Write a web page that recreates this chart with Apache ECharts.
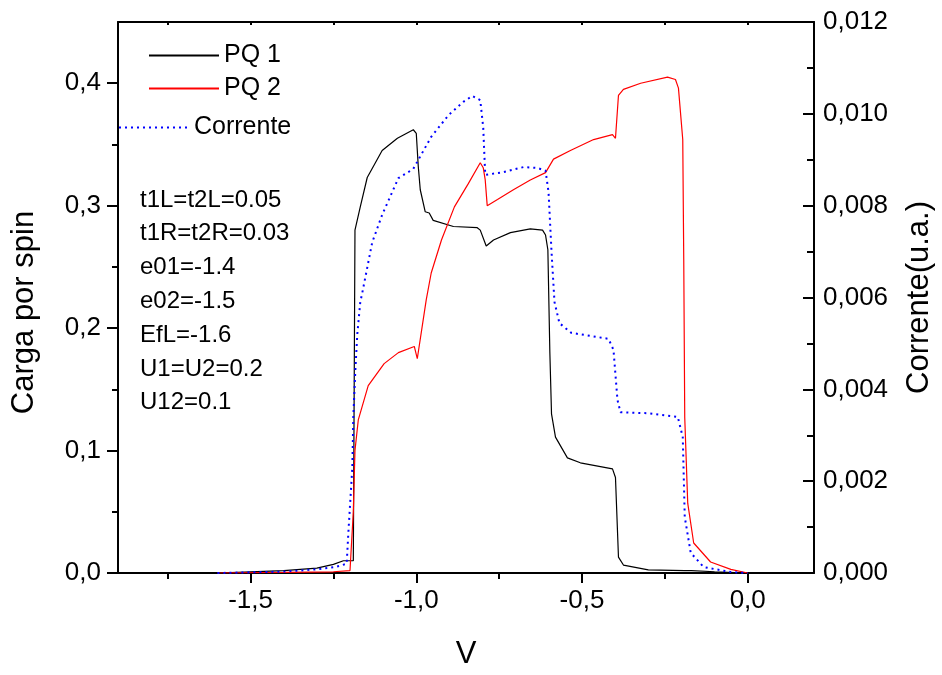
<!DOCTYPE html>
<html><head><meta charset="utf-8">
<script src="https://cdn.jsdelivr.net/npm/echarts@6/dist/echarts.min.js"></script>
<style>html,body{margin:0;padding:0;background:#fff}#c{width:942px;height:675px}</style>
</head><body><div id="c"></div>
<script>
// ---- data ----
const pq1V = [-1.6,-1.5,-1.4,-1.3,-1.25,-1.22,-1.19,-1.185,-1.169,-1.148,-1.103,-1.057,-1.009,-1.0,-0.994,-0.988,-0.973,-0.961,-0.949,-0.888,-0.816,-0.807,-0.789,-0.767,-0.716,-0.656,-0.619,-0.61,-0.603,-0.597,-0.592,-0.58,-0.544,-0.505,-0.408,-0.399,-0.39,-0.375,-0.3,-0.19,-0.185,-0.17,-0.1,0];
const pq1Q = [0,0.001,0.002,0.004,0.007,0.01,0.01,0.28,0.299,0.323,0.345,0.355,0.362,0.359,0.332,0.313,0.295,0.294,0.288,0.283,0.282,0.280,0.267,0.272,0.278,0.281,0.280,0.276,0.264,0.18,0.13,0.111,0.094,0.090,0.085,0.078,0.013,0.0065,0.0025,0.002,0.003,0.002,0.001,0];
const pq2V = [-1.6,-1.4,-1.25,-1.2,-1.19,-1.185,-1.175,-1.145,-1.097,-1.054,-1.006,-0.997,-0.97,-0.955,-0.924,-0.885,-0.843,-0.807,-0.798,-0.792,-0.786,-0.755,-0.707,-0.656,-0.61,-0.586,-0.535,-0.465,-0.408,-0.399,-0.39,-0.375,-0.323,-0.242,-0.218,-0.209,-0.196,-0.193,-0.19,-0.181,-0.163,-0.112,-0.051,0];
const pq2Q = [0,0.0005,0.001,0.002,0.05,0.1,0.125,0.153,0.171,0.18,0.185,0.175,0.223,0.245,0.272,0.299,0.318,0.335,0.331,0.321,0.30,0.305,0.313,0.321,0.327,0.338,0.345,0.354,0.358,0.355,0.39,0.395,0.40,0.405,0.403,0.396,0.354,0.256,0.127,0.057,0.0245,0.009,0.003,0];
const corV = [-1.6,-1.4,-1.3,-1.245,-1.21,-1.205,-1.193,-1.19,-1.184,-1.178,-1.169,-1.163,-1.133,-1.103,-1.054,-1.009,-0.955,-0.903,-0.858,-0.831,-0.807,-0.798,-0.792,-0.737,-0.677,-0.634,-0.61,-0.601,-0.592,-0.583,-0.568,-0.532,-0.42,-0.405,-0.393,-0.384,-0.302,-0.211,-0.196,-0.19,-0.172,-0.133,-0.051,0];
const corI = [0,0.00003,0.00008,0.00013,0.0002,0.00087,0.0023,0.0034,0.0044,0.0052,0.0059,0.0061,0.0072,0.0078,0.0086,0.0088,0.0095,0.00997,0.01026,0.01039,0.0103,0.0097,0.00867,0.00873,0.00884,0.00882,0.00876,0.0083,0.0070,0.0059,0.00544,0.00523,0.0051,0.00486,0.00377,0.0035,0.00348,0.0034,0.00296,0.00122,0.00044,0.00013,0.00002,0];
const xMajorTicks = [-1.5,-1.0,-0.5,0.0];
const xMinorTicks = [-1.75,-1.25,-0.75,-0.25];
const xTopTicks = [-1.75,-1.5,-1.25,-1.0,-0.75,-0.5,-0.25,0.0];
const yLeftMajor = [0,0.1,0.2,0.3,0.4];
const yLeftMinor = [0.05,0.15,0.25,0.35];
const notes = ['t1L=t2L=0.05','t1R=t2R=0.03','e01=-1.4','e02=-1.5','EfL=-1.6','U1=U2=0.2','U12=0.1'];

const zip = (a,b)=>a.map((v,i)=>[v,b[i]]);
const FONT = 'Liberation Sans';
const chart = echarts.init(document.getElementById('c'));
const xBase = {type:'value', min:-1.9, max:0.2, gridIndex:0, splitLine:{show:false}};
const lineBlack = {show:true, onZero:false, lineStyle:{color:'#000', width:2}};
chart.setOption({
  animation:false,
  backgroundColor:'#fff',
  textStyle:{fontFamily:FONT},
  grid:{left:118, right:128, top:22, bottom:102, containLabel:false, outerBoundsMode:'none'},
  xAxis:[
    Object.assign({}, xBase, {position:'bottom', name:'V', nameLocation:'middle', nameGap:66,
      nameTextStyle:{fontSize:31, color:'#000', fontFamily:FONT},
      axisLine:lineBlack,
      axisTick:{show:true, inside:false, length:10, lineStyle:{color:'#000', width:2}, customValues:xMajorTicks},
      axisLabel:{show:true, color:'#000', fontSize:26, margin:15, fontFamily:FONT, customValues:xMajorTicks,
        formatter:v=>v.toFixed(1).replace('.',',')}}),
    Object.assign({}, xBase, {position:'bottom', axisLine:{show:false, onZero:false},
      axisTick:{show:true, inside:false, length:6, lineStyle:{color:'#000', width:2}, customValues:xMinorTicks},
      axisLabel:{show:false}}),
    Object.assign({}, xBase, {position:'top', axisLine:lineBlack,
      axisTick:{show:true, inside:true, length:3, lineStyle:{color:'#000', width:2}, customValues:xTopTicks},
      axisLabel:{show:false}})
  ],
  yAxis:[
    {type:'value', min:0, max:0.45, position:'left', splitLine:{show:false},
      name:'Carga por spin', nameLocation:'middle', nameGap:78, nameRotate:90,
      nameTextStyle:{fontSize:31, color:'#000', fontFamily:FONT, padding:[0,30,0,0]},
      axisLine:lineBlack,
      axisTick:{show:true, inside:false, length:11, lineStyle:{color:'#000', width:2}, customValues:yLeftMajor},
      axisLabel:{show:true, color:'#000', fontSize:26, margin:17, fontFamily:FONT, customValues:yLeftMajor,
        formatter:v=>v.toFixed(1).replace('.',',')}},
    {type:'value', min:0, max:0.012, interval:0.002, position:'right', splitLine:{show:false},
      name:'Corrente(u.a.)', nameLocation:'middle', nameGap:90, nameRotate:90,
      nameTextStyle:{fontSize:31, color:'#000', fontFamily:FONT},
      axisLine:lineBlack,
      axisTick:{show:true, inside:true, length:11, lineStyle:{color:'#000', width:2}},
      minorTick:{show:true, splitNumber:2, length:7, lineStyle:{color:'#000', width:2}},
      axisLabel:{show:true, color:'#000', fontSize:26, margin:9, fontFamily:FONT,
        formatter:v=>v.toFixed(3).replace('.',',')}},
    {type:'value', min:0, max:0.45, position:'left', splitLine:{show:false},
      axisLine:{show:false, onZero:false},
      axisTick:{show:true, inside:false, length:6, lineStyle:{color:'#000', width:2}, customValues:yLeftMinor},
      axisLabel:{show:false}}
  ],
  legend:[
    {data:['PQ 1','PQ 2'], orient:'vertical', left:143, top:38, itemWidth:70, itemHeight:14, itemGap:8,
      itemStyle:{opacity:0},
      textStyle:{fontSize:25, color:'#000', fontFamily:FONT}, selectedMode:false},
    {data:['Corrente'], left:113, top:110, itemWidth:70, itemHeight:14,
      itemStyle:{opacity:0},
      textStyle:{fontSize:25, color:'#000', fontFamily:FONT}, selectedMode:false}
  ],
  graphic: notes.map((t,i)=>({type:'text', left:140, top:188+i*33.8,
    style:{text:t, fontSize:24, fontFamily:FONT, fill:'#000'}})),
  series:[
    {name:'PQ 1', type:'line', xAxisIndex:0, yAxisIndex:0, data:zip(pq1V,pq1Q), symbol:'none',
      lineStyle:{color:'#000', width:1.2}, itemStyle:{color:'#000'}},
    {name:'PQ 2', type:'line', xAxisIndex:0, yAxisIndex:0, data:zip(pq2V,pq2Q), symbol:'none',
      lineStyle:{color:'#ff0000', width:1.2}, itemStyle:{color:'#ff0000'}},
    {name:'Corrente', type:'line', xAxisIndex:0, yAxisIndex:1, data:zip(corV,corI), symbol:'none',
      lineStyle:{color:'#0000ff', width:2, type:[2,4]}, itemStyle:{color:'#0000ff'}}
  ]
});
</script></body></html>
